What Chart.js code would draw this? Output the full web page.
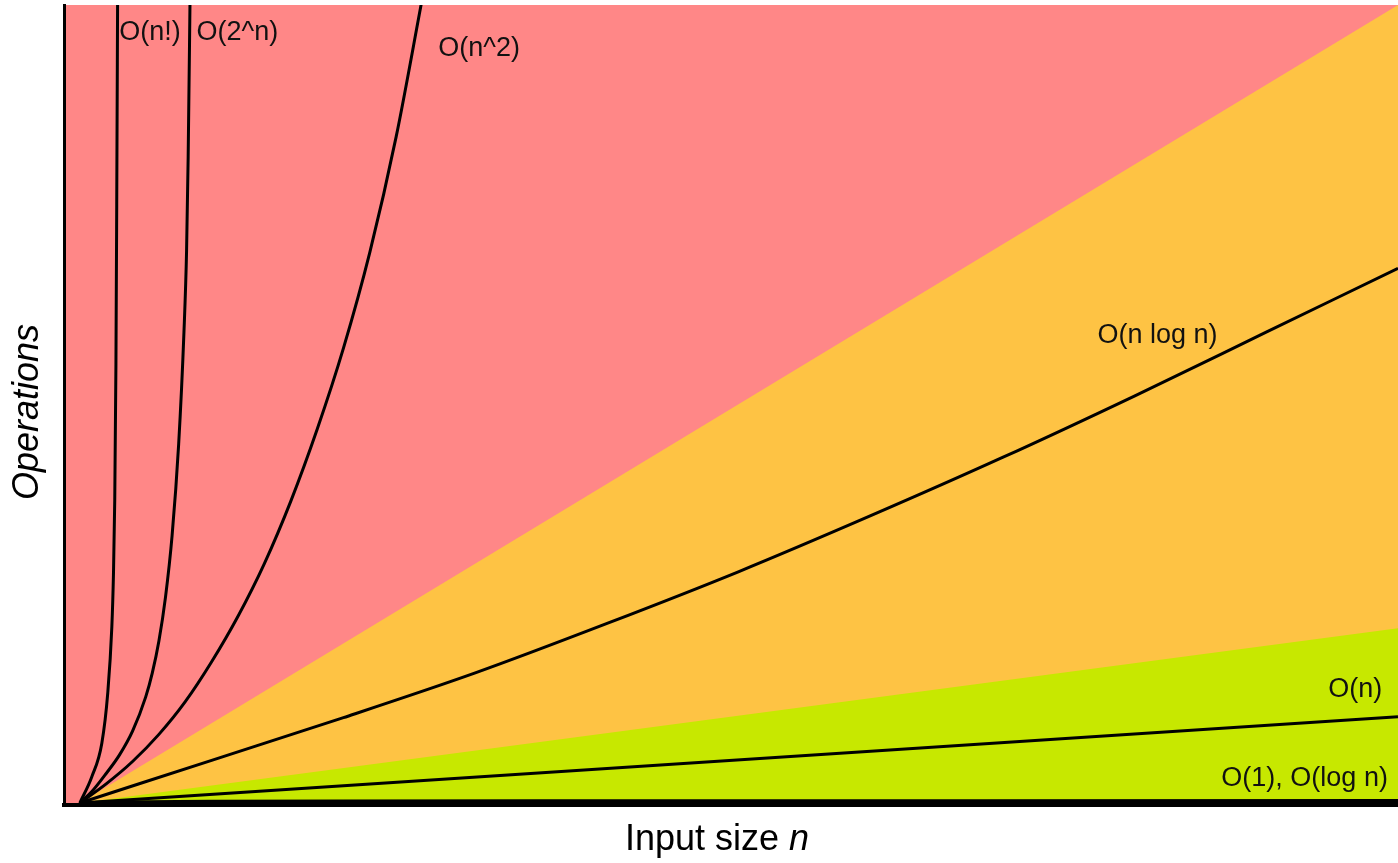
<!DOCTYPE html>
<html>
<head>
<meta charset="utf-8">
<script src="https://cdn.jsdelivr.net/npm/chart.js@4"></script>
<style>
  body { margin: 0; background: #fff; }
  #wrap { width: 1398px; height: 863px; }
</style>
</head>
<body>
<div id="wrap"><canvas id="bigOChart" width="1398" height="863"></canvas></div>
<script>
  // region boundaries (operations as % of the visible range)
  const redTopX = [-1.2, 100];
  const redTopY = [100, 100];
  const orangeTopX = [0, 100];
  const orangeTopY = [0, 100];
  const greenTopX = [0, 100];
  const greenTopY = [0, 21.9];

  // curves
  const factX = [0, 0.91, 1.67, 2.12, 2.43, 2.55, 2.65, 2.74, 2.8, 2.87];
  const factY = [0, 3.3, 7.5, 13.8, 22.1, 28.5, 38, 55, 75, 102];
  const expX = [0, 1, 2, 3, 4, 5, 5.5, 6, 6.5, 7, 7.5, 7.9, 8.1, 8.22, 8.37];
  const expY = [0, 1.6, 3.7, 6.0, 9.0, 13.3, 16.3, 20.3, 25.8, 33.5, 45, 59, 69.3, 81, 102];
  const sqX = [0, 2, 4, 6, 8, 10, 12, 14, 16, 18, 20, 22, 24, 26];
  const sqY = [0, 2.4, 5.2, 8.6, 12.7, 17.7, 23.4, 30.0, 37.8, 46.8, 57, 69, 83.5, 101];
  const nlognX = [0, 10, 20, 30, 40, 50, 60, 70, 80, 90, 100];
  const nlognY = [0, 5.35, 10.7, 16.3, 22.5, 29.0, 36.0, 43.3, 51.0, 59.0, 67.0];
  const linX = [0, 100];
  const linY = [0, 10.8];
  const logX = [0, 2, 5, 10, 20, 50, 100];
  const logY = [0, 0.12, 0.17, 0.21, 0.25, 0.28, 0.3];
  const constX = [0, 100];
  const constY = [0, 0];

  // labels and where they sit (data units, left edge / vertical middle)
  const labelText = ['O(n!)', 'O(2^n)', 'O(n^2)', 'O(n log n)', 'O(n)', 'O(1), O(log n)'];
  const labelX = [3.0, 8.85, 27.2, 77.2, 94.7, 86.6];
  const labelY = [96.6, 96.6, 94.6, 58.6, 14.2, 3.1];

  const RED = '#FF8787';
  const ORANGE = '#FEC344';
  const GREEN = '#C7E800';

  function pts(xs, ys) {
    return xs.map((x, i) => ({ x: x, y: ys[i] }));
  }

  function region(xs, ys, color, order) {
    return {
      data: pts(xs, ys),
      backgroundColor: color,
      borderWidth: 0,
      pointRadius: 0,
      fill: 'start',
      order: order
    };
  }

  function curve(xs, ys) {
    return {
      data: pts(xs, ys),
      borderColor: '#000',
      borderWidth: 3,
      pointRadius: 0,
      fill: false,
      cubicInterpolationMode: 'monotone',
      order: 0
    };
  }

  // titles and curve labels
  const textPlugin = {
    id: 'bigOText',
    afterDraw(chart) {
      const ctx = chart.ctx;
      const xs = chart.scales.x, ys = chart.scales.y;
      ctx.save();
      ctx.fillStyle = '#111';
      ctx.font = '27px "Liberation Sans", Arial, sans-serif';
      ctx.textAlign = 'left';
      ctx.textBaseline = 'middle';
      labelText.forEach((t, i) => {
        ctx.fillText(t, xs.getPixelForValue(labelX[i]), ys.getPixelForValue(labelY[i]));
      });

      // x title, with an italic n
      ctx.fillStyle = '#000';
      const normalFont = '36px "Liberation Sans", Arial, sans-serif';
      const italicFont = 'italic 36px "Liberation Sans", Arial, sans-serif';
      ctx.font = normalFont;
      const part1 = 'Input size ';
      const w1 = ctx.measureText(part1).width;
      ctx.font = italicFont;
      const w2 = ctx.measureText('n').width;
      let left = 717 - (w1 + w2) / 2;
      ctx.font = normalFont;
      ctx.fillText(part1, left, 840);
      ctx.font = italicFont;
      ctx.fillText('n', left + w1, 840);

      // y title
      ctx.translate(28, 412);
      ctx.rotate(-Math.PI / 2);
      ctx.textAlign = 'center';
      ctx.font = italicFont;
      ctx.fillText('Operations', 0, 0);
      ctx.restore();
    }
  };

  const ctx = document.getElementById('bigOChart').getContext('2d');
  const bigOChart = new Chart(ctx, {
    type: 'line',
    data: {
      datasets: [
        curve(factX, factY),
        curve(expX, expY),
        curve(sqX, sqY),
        curve(nlognX, nlognY),
        curve(linX, linY),
        curve(logX, logY),
        curve(constX, constY),
        region(greenTopX, greenTopY, GREEN, 1),
        region(orangeTopX, orangeTopY, ORANGE, 2),
        region(redTopX, redTopY, RED, 3)
      ]
    },
    options: {
      responsive: false,
      animation: false,
      layout: { padding: { top: 5, right: 0, left: 0, bottom: 0 } },
      plugins: {
        legend: { display: false },
        tooltip: { enabled: false }
      },
      scales: {
        x: {
          type: 'linear',
          min: -1.2,
          max: 100,
          grid: { display: false },
          ticks: { display: false },
          border: { display: true, color: '#000', width: 4, z: 1 },
          afterFit: function(scale) { scale.height = 58; }
        },
        y: {
          type: 'linear',
          min: -0.25,
          max: 100,
          grid: { display: false },
          ticks: { display: false },
          border: { display: true, color: '#000', width: 3, z: 1 },
          afterFit: function(scale) { scale.width = 64; }
        }
      }
    },
    plugins: [textPlugin]
  });
</script>
</body>
</html>
